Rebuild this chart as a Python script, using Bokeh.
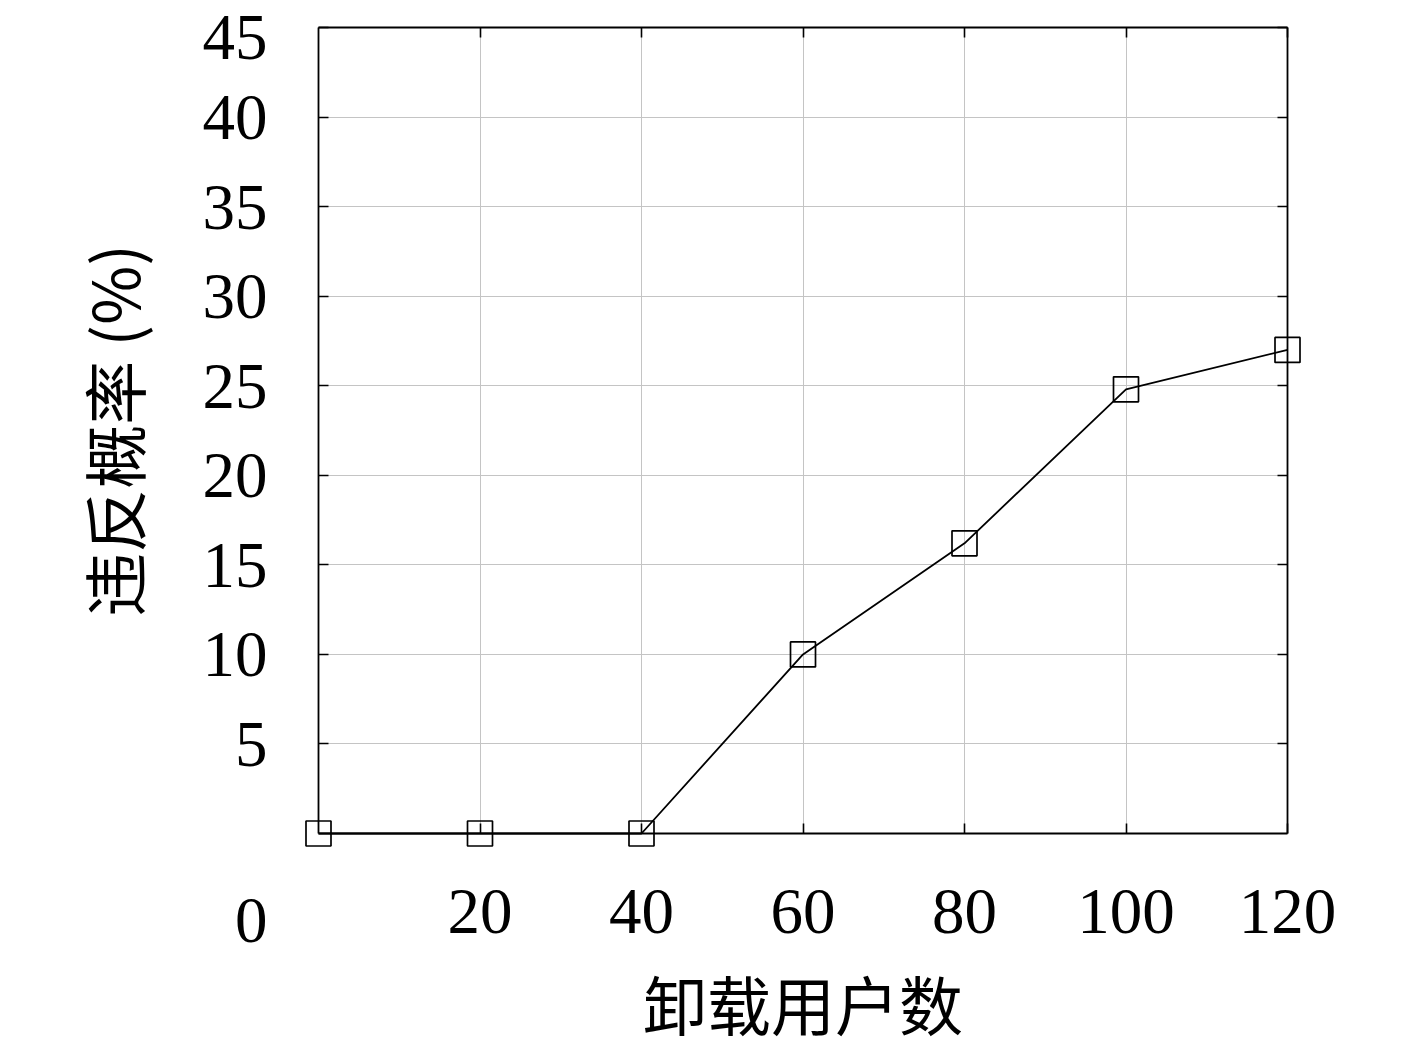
from bokeh.plotting import figure
from bokeh.models import LinearAxis, FixedTicker, Range1d, CustomJSTickFormatter
from bokeh.embed import file_html
from bokeh.resources import INLINE

# data
users = [0, 20, 40, 60, 80, 100, 120]
violation = [0, 0, 0, 10, 16.2, 24.8, 27]
x_ticks = [20, 40, 60, 80, 100, 120]
y_ticks = [5, 10, 15, 20, 25, 30, 35, 40, 45]
x_title = "卸载用户数"
y_title = "违反概率 (%)"

NUM_FONT = "Liberation Serif"
CJK_FONT = "Noto Sans CJK SC"

X0, X1, Y0, Y1 = 0, 120, 0, 45
BOX_W, BOX_H, PAD = 969, 806, 16
BOX_LEFT, BOX_TOP = 318, 27
W, H = 1417, 1051
xpad = PAD / BOX_W * (X1 - X0)
ypad = PAD / BOX_H * (Y1 - Y0)

p = figure(width=W, height=H, frame_width=BOX_W + 2 * PAD, frame_height=BOX_H + 2 * PAD,
           output_backend="svg", toolbar_location=None,
           x_range=Range1d(X0 - xpad, X1 + xpad), y_range=Range1d(Y0 - ypad, Y1 + ypad),
           min_border_left=BOX_LEFT - PAD, min_border_right=W - BOX_LEFT - BOX_W - PAD,
           min_border_top=BOX_TOP - PAD, min_border_bottom=H - BOX_TOP - BOX_H - PAD,
           x_axis_location=None, y_axis_location=None)
p.outline_line_color = None
p.background_fill_color = "white"
p.border_fill_color = "white"

# ---- label axes (at the frame edge, no line / ticks) ----
xb = LinearAxis(axis_label=x_title)
xb.ticker = FixedTicker(ticks=x_ticks)
yl = LinearAxis(axis_label=y_title)
yl.ticker = FixedTicker(ticks=[0] + y_ticks)
yl.major_label_overrides = {0: "\n\n0"}
for ax in (xb, yl):
    ax.axis_line_color = None
    ax.major_tick_line_color = None
    ax.minor_tick_line_color = None
    ax.major_label_text_font = NUM_FONT
    ax.major_label_text_font_size = "65px"
    ax.major_label_text_color = "black"
    ax.axis_label_text_font = CJK_FONT
    ax.axis_label_text_font_size = "64px"
    ax.axis_label_text_font_style = "normal"
    ax.axis_label_text_color = "black"
xb.major_label_standoff = 34
xb.axis_label_standoff = 20
yl.major_label_standoff = 29
yl.axis_label_standoff = 42
p.add_layout(xb, "below")
p.add_layout(yl, "left")

# ---- box axes (frame lines with inward ticks) ----
def box_axis(loc, bounds, ticks, side):
    ax = LinearAxis(fixed_location=loc, bounds=bounds)
    ax.ticker = FixedTicker(ticks=ticks)
    ax.axis_line_color = "black"
    ax.axis_line_width = 1.8
    ax.major_tick_in = 10
    ax.major_tick_out = 0
    ax.major_tick_line_color = "black"
    ax.major_tick_line_width = 1.6
    ax.minor_tick_line_color = None
    ax.major_label_text_font_size = "0px"
    ax.major_label_standoff = 0
    ax.formatter = CustomJSTickFormatter(code="return '';")
    p.add_layout(ax, side)

box_axis(Y0, (X0, X1), x_ticks, "below")
box_axis(X0, (Y0, Y1), y_ticks, "left")
box_axis(Y1, (X0, X1), x_ticks, "above")
box_axis(X1, (Y0, Y1), y_ticks, "right")

# ---- grid, limited to the box ----
GRID_COLOR = "#c4c4c4"
p.xgrid.ticker = FixedTicker(ticks=x_ticks)
p.ygrid.ticker = FixedTicker(ticks=y_ticks)
p.grid.grid_line_color = GRID_COLOR
p.grid.grid_line_width = 1
try:
    p.xgrid.cross_bounds = (Y0, Y1)
    p.ygrid.cross_bounds = (X0, X1)
except Exception:
    p.grid.visible = False
    p.segment(x0=x_ticks, y0=[Y0] * len(x_ticks), x1=x_ticks, y1=[Y1] * len(x_ticks),
              line_color=GRID_COLOR, line_width=1)
    p.segment(x0=[X0] * len(y_ticks), y0=y_ticks, x1=[X1] * len(y_ticks), y1=y_ticks,
              line_color=GRID_COLOR, line_width=1)

# ---- series ----
p.line(users, violation, line_color="black", line_width=1.8)
p.scatter(users, violation, marker="square", size=25, fill_color=None,
          line_color="black", line_width=1.7)

open("out.html", "w").write(file_html(p, INLINE))
